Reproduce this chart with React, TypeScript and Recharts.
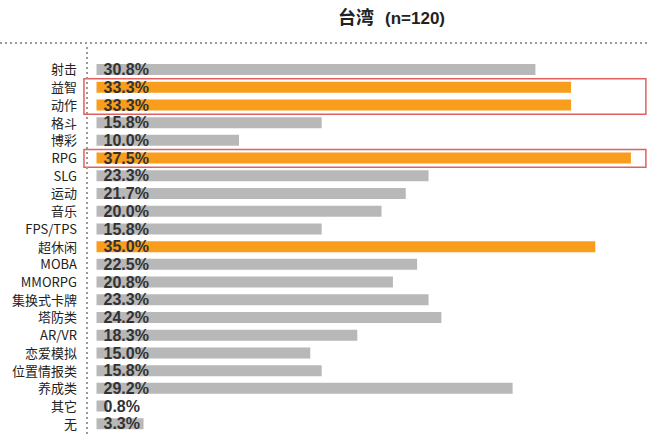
import React from 'react';
import { BarChart, Bar, XAxis, YAxis, Cell, LabelList, ReferenceArea } from 'recharts';

// categories, top to bottom
const genres = [
  '射击', '益智', '动作', '格斗', '博彩', 'RPG', 'SLG', '运动', '音乐', 'FPS/TPS', '超休闲',
  'MOBA', 'MMORPG', '集换式卡牌', '塔防类', 'AR/VR', '恋爱模拟', '位置情报类', '养成类', '其它', '无',
];
// share of respondents, %
const shares = [
  30.8, 33.3, 33.3, 15.8, 10.0, 37.5, 23.3, 21.7, 20.0, 15.8, 35.0,
  22.5, 20.8, 23.3, 24.2, 18.3, 15.0, 15.8, 29.2, 0.8, 3.3,
];
const highlighted = ['益智', '动作', 'RPG', '超休闲'];

const title = '台湾';
const sampleNote = '(n=120)';

// red annotation boxes (category ranges)
const boxes = [
  { from: '益智', to: '动作' },
  { from: 'RPG', to: 'RPG' },
];

const data = genres.map((name, i) => ({ name, value: shares[i] }));

const X_MIN = -0.667;
const X_MAX = 38.98;
const BOX_LEFT = -0.88;
const BOX_RIGHT = 38.55;

const ORANGE = '#f99d1c';
const GRAY = '#b8b8b8';
const narrow = '"Liberation Sans Narrow", "Arial Narrow", "Liberation Sans", Arial, sans-serif';
const cjk = '"Noto Sans CJK SC", "Noto Sans", sans-serif';

export default function App() {
  return (
    <div style={{ position: 'absolute', left: 0, top: 0, width: 653, height: 437, background: '#fff' }}>
      <div
        style={{
          position: 'absolute',
          left: 338,
          top: 3,
          fontFamily: cjk,
          fontWeight: 'bold',
          fontSize: 18,
          color: '#222',
          whiteSpace: 'pre',
        }}
      >
        {title}
        <span style={{ fontFamily: narrow, fontSize: 17, marginLeft: 11 }}>{sampleNote}</span>
      </div>
      <svg width={653} height={437} style={{ position: 'absolute', left: 0, top: 0 }}>
        <line x1={0} y1={43} x2={650} y2={43} stroke="#999" strokeWidth={2} strokeDasharray="2 3" />
      </svg>
      <div style={{ position: 'absolute', left: 0, top: 0 }}>
        <BarChart
          width={653}
          height={437}
          data={data}
          layout="vertical"
          margin={{ top: 47, right: 1, bottom: 0, left: 0 }}
          barSize={11}
        >
          <XAxis type="number" hide domain={[X_MIN, X_MAX]} allowDataOverflow />
          <YAxis
            type="category"
            dataKey="name"
            width={87}
            interval={0}
            tickLine={false}
            tickMargin={4}
            padding={{ top: 14, bottom: 4 }}
            axisLine={{ stroke: '#999', strokeWidth: 2, strokeDasharray: '2 3' }}
            tick={{ fontSize: 13, fill: '#222', fontFamily: cjk }}
          />
          <Bar dataKey="value" isAnimationActive={false}>
            {data.map((d) => (
              <Cell key={d.name} fill={highlighted.includes(d.name) ? ORANGE : GRAY} />
            ))}
            <LabelList
              dataKey="value"
              position="insideLeft"
              offset={7}
              formatter={(v: any) => `${Number(v).toFixed(1)}%`}
              style={{ fontFamily: narrow, fontWeight: 'bold', fontSize: 16, fill: '#333' }}
            />
          </Bar>
          {boxes.map((b) => (
            <ReferenceArea
              key={b.from}
              x1={BOX_LEFT}
              x2={BOX_RIGHT}
              y1={b.from}
              y2={b.to}
              ifOverflow="visible"
              fill="none"
              stroke="#e06060"
              strokeWidth={1.5}
            />
          ))}
        </BarChart>
      </div>
    </div>
  );
}
